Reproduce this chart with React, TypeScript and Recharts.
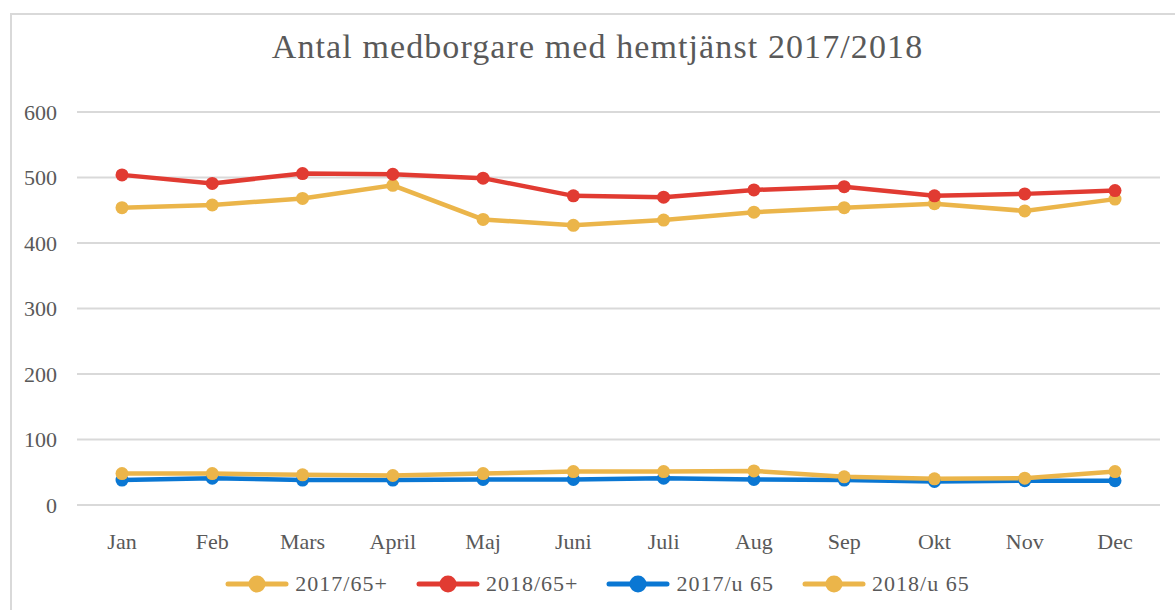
import { LineChart, Line, CartesianGrid, XAxis, YAxis } from 'recharts'

const months = ['Jan', 'Feb', 'Mars', 'April', 'Maj', 'Juni', 'Juli', 'Aug', 'Sep', 'Okt', 'Nov', 'Dec']
const y2017Over65 = [454, 458, 468, 488, 436, 427, 435, 447, 454, 460, 449, 467]
const y2018Over65 = [504, 491, 506, 505, 499, 472, 470, 481, 486, 472, 475, 480]
const y2017Under65 = [38, 41, 38, 38, 39, 39, 41, 39, 38, 36, 37, 37]
const y2018Under65 = [48, 48, 46, 45, 48, 51, 51, 52, 43, 40, 41, 51]
const yTicks = [0, 100, 200, 300, 400, 500, 600]

const data = months.map((m, i) => ({
  month: m,
  a: y2017Over65[i],
  b: y2018Over65[i],
  c: y2017Under65[i],
  d: y2018Under65[i],
}))

const FONT = '"Liberation Serif", "Times New Roman", serif'
const TEXT = '#595959'
const YELLOW = '#EBB54A'
const RED = '#E13B32'
const BLUE = '#0A77D3'

const series = [
  { key: 'a', name: '2017/65+', color: YELLOW },
  { key: 'b', name: '2018/65+', color: RED },
  { key: 'c', name: '2017/u 65', color: BLUE },
  { key: 'd', name: '2018/u 65', color: YELLOW },
]

function ChartLegend() {
  return (
    <div
      style={{
        position: 'absolute',
        left: 10,
        top: 571,
        width: 1175,
        display: 'flex',
        justifyContent: 'center',
        gap: 28,
        fontFamily: FONT,
        fontSize: 22,
        letterSpacing: 1,
        color: TEXT,
      }}
    >
      {series.map((s) => (
        <div key={s.key} style={{ display: 'flex', alignItems: 'center' }}>
          <svg width={64} height={26} style={{ marginRight: 6 }}>
            <line x1={3} y1={13} x2={61} y2={13} stroke={s.color} strokeWidth={5} strokeLinecap="round" />
            <circle cx={32} cy={13} r={8.5} fill={s.color} />
          </svg>
          <span>{s.name}</span>
        </div>
      ))}
    </div>
  )
}

export default function App() {
  return (
    <div style={{ position: 'absolute', left: 0, top: 0, width: 1175, height: 610, overflow: 'hidden', background: '#fff' }}>
      <div style={{ position: 'absolute', left: 10, top: 13, width: 1300, height: 800, border: '2px solid #d9d9d9' }} />
      <div
        style={{
          position: 'absolute',
          left: 10,
          top: 28,
          width: 1175,
          textAlign: 'center',
          fontFamily: FONT,
          fontSize: 34,
          letterSpacing: 1.1,
          color: TEXT,
        }}
      >
        Antal medborgare med hemtjänst 2017/2018
      </div>
      <div style={{ position: 'absolute', left: 0, top: 0 }}>
        <LineChart width={1175} height={610} data={data} margin={{ top: 112, right: 15, bottom: 75, left: 0 }}>
          <CartesianGrid vertical={false} stroke="#d9d9d9" strokeWidth={2} />
          <XAxis
            dataKey="month"
            axisLine={false}
            tickLine={false}
            tickSize={0}
            tickMargin={28}
            padding={{ left: 45, right: 45 }}
            tick={{ fontFamily: FONT, fontSize: 22, fill: TEXT }}
            interval={0}
          />
          <YAxis
            width={77}
            domain={[0, 600]}
            ticks={yTicks}
            axisLine={false}
            tickLine={false}
            tickSize={0}
            tickMargin={20}
            tick={{ fontFamily: FONT, fontSize: 22, fill: TEXT }}
          />
          {series.map((s) => (
            <Line
              key={s.key}
              dataKey={s.key}
              name={s.name}
              stroke={s.color}
              strokeWidth={4.5}
              dot={{ r: 6.5, fill: s.color, stroke: s.color, strokeWidth: 0 }}
              activeDot={false}
              isAnimationActive={false}
            />
          ))}
        </LineChart>
      </div>
      <ChartLegend />
    </div>
  )
}
